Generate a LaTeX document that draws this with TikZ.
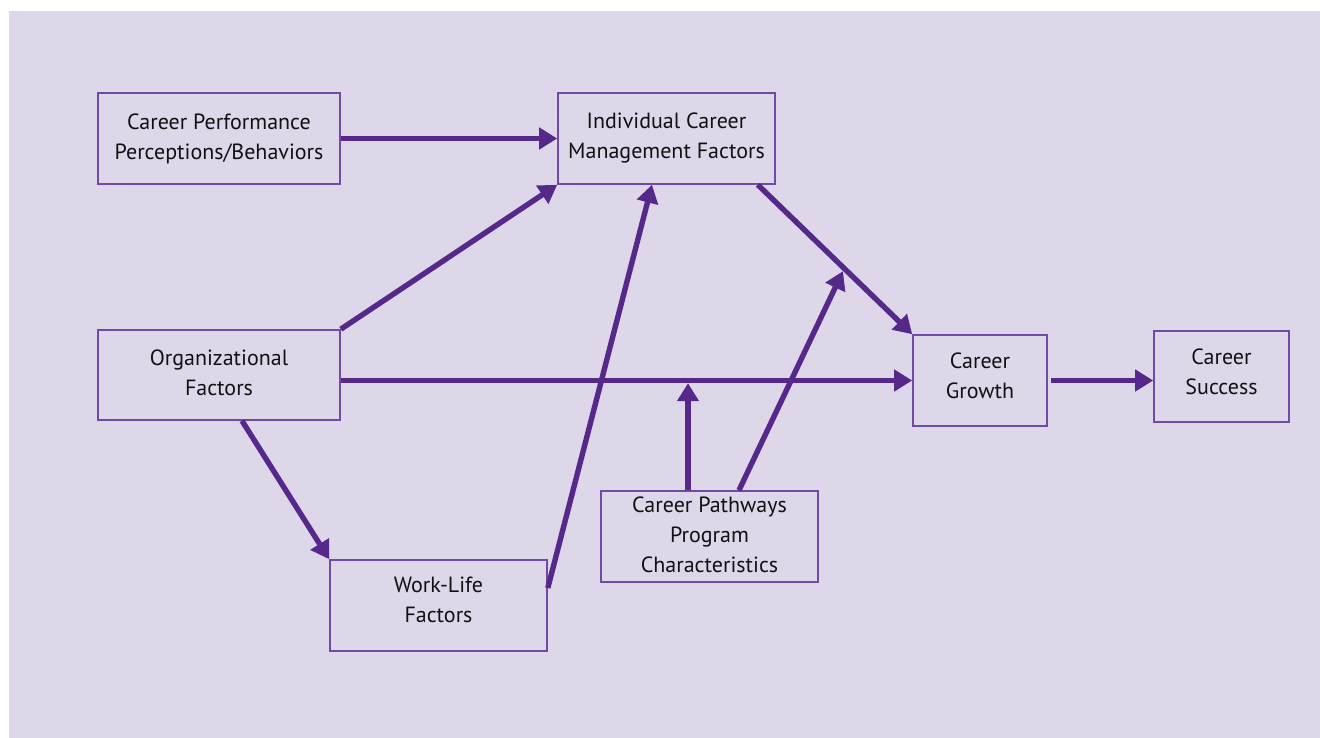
\documentclass[tikz,border=0pt]{standalone}
\usepackage{fontspec}
\setmainfont{PT Sans}
\usetikzlibrary{arrows.meta,calc}
\definecolor{bgl}{HTML}{DED7EA}
\definecolor{arr}{HTML}{55288A}
\definecolor{bord}{HTML}{7149A6}
\definecolor{txt}{HTML}{111111}
\tikzset{
  box/.style={draw=bord, line width=1.6pt, rectangle, inner sep=0pt},
  txtlbl/.style={align=center, text=txt, font=\fontsize{22pt}{30pt}\selectfont, inner sep=0pt},
  conn/.style={draw=arr, line width=5.4pt, -{Triangle[length=18pt,width=21pt]}},
}
\begin{document}
\begin{tikzpicture}[x=1pt,y=-1pt]
\useasboundingbox (0,0) rectangle (1320,738);
\fill[bgl] (9,11) rectangle (1320,738);

\node[box, minimum width=242pt, minimum height=91pt,
  label={[txtlbl]center:Career Performance\\Perceptions/Behaviors}] (cpp) at (219,138.5) {};
\node[box, minimum width=217pt, minimum height=91pt,
  label={[txtlbl]center:Individual Career\\Management Factors}] (icm) at (666.5,138.5) {};
\node[box, minimum width=242pt, minimum height=90pt,
  label={[txtlbl,yshift=2pt]center:Organizational\\Factors}] (org) at (219,375) {};
\node[box, minimum width=217pt, minimum height=91pt,
  label={[txtlbl,yshift=5.5pt]center:Work-Life\\Factors}] (wl) at (438.5,605.5) {};
\node[box, minimum width=217pt, minimum height=91pt,
  label={[txtlbl,yshift=1.5pt]center:Career Pathways\\Program\\Characteristics}] (cppc) at (709.5,536.5) {};
\node[box, minimum width=134pt, minimum height=91pt,
  label={[txtlbl,yshift=5pt]center:Career\\Growth}] (cg) at (980,380.5) {};
\node[box, minimum width=135pt, minimum height=91pt,
  label={[txtlbl,yshift=4.5pt]center:Career\\Success}] (cs) at (1221.5,376.5) {};

\coordinate (p1) at ([xshift=-18pt]icm.south east);
\coordinate (p2) at (cg.north west);
\coordinate (mid) at ($(p1)!0.56!(p2)$);
\coordinate (oc) at (org.east |- cg.west);

\draw[conn] (cpp.east) -- (icm.west);
\draw[conn] (org.north east) -- (icm.south west);
\draw[conn] ([yshift=17.5pt]wl.east) -- ([xshift=-14.5pt]icm.south);
\draw[conn] (p1) -- (p2);
\draw[conn, shorten >=3pt] ([xshift=29.5pt]cppc.north) -- (mid);
\draw[conn] (oc) -- (cg.west);
\draw[conn, shorten >=2.7pt] ([xshift=-21.5pt]cppc.north) -- ([xshift=-21.5pt]cppc.north |- oc);
\draw[conn] ([xshift=23pt]org.south) -- (wl.north west);
\draw[conn, shorten <=3pt] (cg.east) -- (cg.east -| cs.west);
\end{tikzpicture}
\end{document}
